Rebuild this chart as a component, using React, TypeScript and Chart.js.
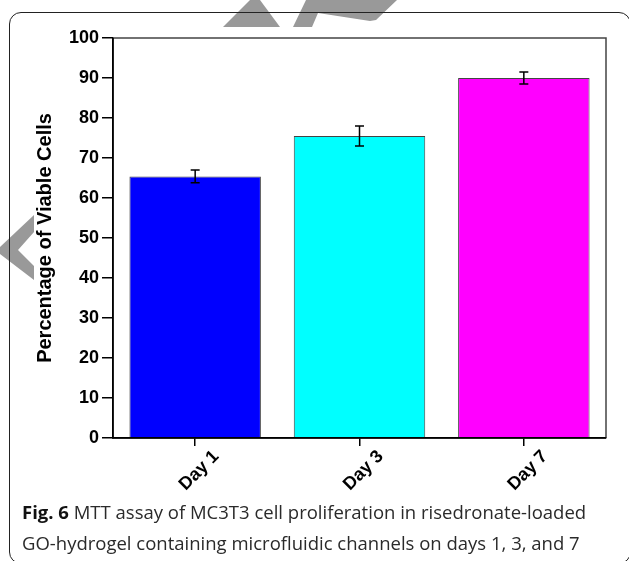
import React, { useEffect, useRef } from "react";
import { Chart, registerables } from "chart.js";

Chart.register(...registerables);

const categories = ["Day 1", "Day 3", "Day 7"];
const viability = [65.4, 75.5, 90.0];
const errors = [1.6, 2.5, 1.5];
const barColors = ["#0000FF", "#00FFFF", "#FF00FF"];
const yTicks = [0, 10, 20, 30, 40, 50, 60, 70, 80, 90, 100];

const errorBarPlugin = {
  id: "errorBars",
  afterDatasetsDraw(chart: any) {
    const meta = chart.getDatasetMeta(0);
    const y = chart.scales.y;
    const ctx = chart.ctx;
    ctx.save();
    ctx.strokeStyle = "#000";
    ctx.lineWidth = 1.5;
    meta.data.forEach((bar: any, i: number) => {
      const x = bar.x;
      const top = y.getPixelForValue(viability[i] + errors[i]);
      const bot = y.getPixelForValue(viability[i] - errors[i]);
      const cap = 4.5;
      ctx.beginPath();
      ctx.moveTo(x, top);
      ctx.lineTo(x, bot);
      ctx.moveTo(x - cap, top);
      ctx.lineTo(x + cap, top);
      ctx.moveTo(x - cap, bot);
      ctx.lineTo(x + cap, bot);
      ctx.stroke();
    });
    ctx.restore();
  },
};

const framePlugin = {
  id: "plotFrame",
  afterDraw(chart: any) {
    const { left, right, top, bottom } = chart.chartArea;
    const ctx = chart.ctx;
    ctx.save();
    ctx.strokeStyle = "#444";
    ctx.lineWidth = 1.5;
    ctx.beginPath();
    ctx.moveTo(left, top);
    ctx.lineTo(right, top);
    ctx.lineTo(right, bottom);
    ctx.stroke();
    ctx.strokeStyle = "#000";
    ctx.beginPath();
    ctx.moveTo(left, top);
    ctx.lineTo(left, bottom);
    ctx.lineTo(right, bottom);
    ctx.stroke();
    ctx.restore();
  },
};

export default function App() {
  const ref = useRef<HTMLCanvasElement | null>(null);

  useEffect(() => {
    if (!ref.current) return;
    const family = "'Liberation Sans', Arial, sans-serif";
    const tickFont = { family, size: 18, weight: "bold" as const };
    const chart = new Chart(ref.current, {
      type: "bar",
      data: {
        labels: categories,
        datasets: [
          {
            data: viability,
            backgroundColor: barColors,
            borderColor: "#444",
            borderWidth: 1,
            categoryPercentage: 0.8,
            barPercentage: 1,
          },
        ],
      },
      options: {
        animation: false,
        responsive: false,
        maintainAspectRatio: false,
        layout: { padding: { left: 0, right: 23, top: 38, bottom: 0 } },
        plugins: { legend: { display: false }, tooltip: { enabled: false } },
        scales: {
          y: {
            min: 0,
            max: 100,
            afterBuildTicks(scale: any) {
              scale.ticks = yTicks.map((v) => ({ value: v }));
            },
            afterFit(scale: any) {
              scale.width = 113;
            },
            ticks: { color: "#000", font: tickFont, padding: 3 },
            grid: { drawOnChartArea: false, drawTicks: true, tickLength: 11, color: "#000", lineWidth: 1.5 },
            border: { display: true, color: "#000", width: 1.5 },
            title: {
              display: true,
              text: "Percentage of Viable Cells",
              color: "#000",
              font: { family, size: 20, weight: "bold" },
              padding: { top: 33, bottom: 0 },
            },
          },
          x: {
            afterFit(scale: any) {
              scale.height = 62;
            },
            ticks: { color: "#000", font: tickFont, minRotation: 45, maxRotation: 45, padding: 0, labelOffset: 21 },
            grid: { drawOnChartArea: false, drawTicks: true, tickLength: 8, color: "#000", lineWidth: 1.5, offset: false },
            border: { display: true, color: "#000", width: 1.5 },
          },
        },
      },
      plugins: [errorBarPlugin, framePlugin],
    });
    return () => chart.destroy();
  }, []);

  return (
    <div style={{ position: "absolute", left: 0, top: 0, width: 629, height: 561, background: "#fff", overflow: "hidden" }}>
      <svg width={629} height={561} style={{ position: "absolute", left: 0, top: 0 }}>
        <polygon points="223,27 250,0 260,0 280,27" fill="#999" />
        <polygon points="293,27 306,0 397,0 376,20 370,21 318,13 312,27" fill="#999" />
        <polygon points="34,215 0,247 0,254 34,280 34,266 18,250 34,232" fill="#999" />
      </svg>
      <div
        style={{
          position: "absolute",
          left: 9,
          top: 12,
          width: 622,
          height: 552,
          border: "1.5px solid #222",
          borderRadius: 12,
          boxSizing: "border-box",
        }}
      />
      <canvas ref={ref} width={629} height={500} style={{ position: "absolute", left: 0, top: 0 }} />
      <div
        style={{
          position: "absolute",
          left: 22,
          top: 496,
          width: 600,
          fontFamily: "'Open Sans', 'Noto Sans', sans-serif",
          fontSize: 18.5,
          lineHeight: "31px",
          color: "#2a2a2a",
          whiteSpace: "nowrap",
        }}
      >
        <div>
          <span style={{ fontWeight: "bold", color: "#111" }}>Fig. 6</span> MTT assay of MC3T3 cell proliferation in risedronate-loaded
        </div>
        <div>GO-hydrogel containing microfluidic channels on days 1, 3, and 7</div>
      </div>
    </div>
  );
}
